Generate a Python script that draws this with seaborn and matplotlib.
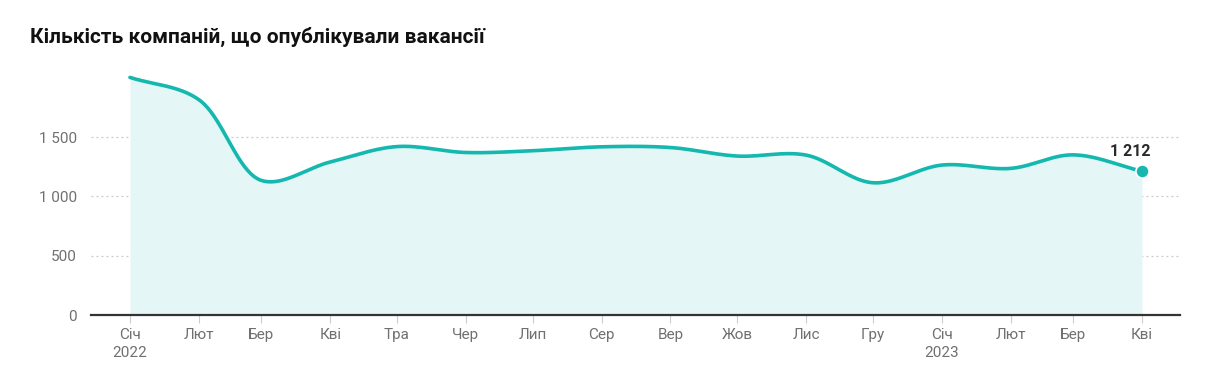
import numpy as np
import pandas as pd
import matplotlib
matplotlib.use("Agg")
import matplotlib.pyplot as plt
import matplotlib.dates as mdates
import seaborn as sns

# ---- data ----
month_labels = ["Січ", "Лют", "Бер", "Кві", "Тра", "Чер", "Лип", "Сер",
                "Вер", "Жов", "Лис", "Гру", "Січ", "Лют", "Бер", "Кві"]
year_labels = {0: "2022", 12: "2023"}
dates = pd.date_range("2022-01-01", periods=16, freq="MS")
values = [2003, 1815, 1135, 1290, 1420, 1370, 1385, 1418,
          1412, 1340, 1348, 1115, 1264, 1236, 1350, 1212]
title = "Кількість компаній, що опублікували вакансії"
last_label = "1 212"

LINE = "#14b8af"
FILL = "#e4f7f6"

sns.set_theme(style="white")
plt.rcParams["font.family"] = ["Roboto", "DejaVu Sans"]

fig = plt.figure(figsize=(12.22, 3.92), dpi=100)
ax = fig.add_axes([0.0745, 0.1964, 0.891, 0.6506])

xnum = mdates.date2num(dates)
yv = np.array(values, dtype=float)

# centripetal Catmull-Rom smoothing in screen-like units (rendering only)
sx, sy = 2.224, 0.11867
P = np.column_stack([xnum * sx, yv * sy])
ext = np.vstack([2 * P[0] - P[1], P, 2 * P[-1] - P[-2]])
curve = []
for i in range(1, len(ext) - 2):
    P0, P1, P2, P3 = ext[i - 1], ext[i], ext[i + 1], ext[i + 2]
    t0 = 0.0
    t1 = t0 + np.linalg.norm(P1 - P0) ** 0.5
    t2 = t1 + np.linalg.norm(P2 - P1) ** 0.5
    t3 = t2 + np.linalg.norm(P3 - P2) ** 0.5
    t = np.linspace(t1, t2, 40)[:, None]
    A1 = (t1 - t) / (t1 - t0) * P0 + (t - t0) / (t1 - t0) * P1
    A2 = (t2 - t) / (t2 - t1) * P1 + (t - t1) / (t2 - t1) * P2
    A3 = (t3 - t) / (t3 - t2) * P2 + (t - t2) / (t3 - t2) * P3
    B1 = (t2 - t) / (t2 - t0) * A1 + (t - t0) / (t2 - t0) * A2
    B2 = (t3 - t) / (t3 - t1) * A2 + (t - t1) / (t3 - t1) * A3
    C = (t2 - t) / (t2 - t1) * B1 + (t - t1) / (t2 - t1) * B2
    curve.append(C if i == 1 else C[1:])
curve = np.vstack(curve)
cx, cy = curve[:, 0] / sx, curve[:, 1] / sy

ax.fill_between(cx, 0, cy, color=FILL, linewidth=0, zorder=1)
sns.lineplot(x=cx, y=cy, sort=False, ax=ax, color=LINE, linewidth=2.6,
             zorder=3, estimator=None)
sns.scatterplot(x=[xnum[-1]], y=[yv[-1]], ax=ax, color=LINE, s=90,
                edgecolor="white", linewidth=1.2, zorder=4)
ax.text(xnum[-1] + 4, yv[-1] + 100, last_label, ha="right", va="bottom",
        fontsize=11.5, fontweight="bold", color="#2a2a2a", zorder=5)

ax.set_xlim(xnum[0] - 17.5, xnum[-1] + 17)
ax.set_ylim(0, 2150)

yt = [0, 500, 1000, 1500]
ax.set_yticks(yt)
ax.set_yticklabels([f"{v:,}".replace(",", " ") for v in yt])
for v in yt[1:]:
    ax.axhline(v, color="#c8c8c8", linewidth=0.9, linestyle=(0, (1.5, 2.5)), zorder=0)

ax.set_xticks(xnum)
ax.set_xticklabels([m + ("\n" + year_labels[i] if i in year_labels else "")
                    for i, m in enumerate(month_labels)])

for s in ["top", "right", "left"]:
    ax.spines[s].set_visible(False)
ax.spines["bottom"].set_color("#333333")
ax.spines["bottom"].set_linewidth(1.6)
ax.spines["bottom"].set_zorder(6)

ax.tick_params(axis="x", which="major", bottom=True, length=6, width=0.8,
               color="#cccccc", pad=3, labelsize=11, labelcolor="#707070")
ax.tick_params(axis="y", left=False, pad=4, labelsize=11, labelcolor="#707070")
for lab in ax.get_xticklabels() + ax.get_yticklabels():
    lab.set_family(["Liberation Sans Narrow", "Roboto", "DejaVu Sans"])
    lab.set_linespacing(1.45)
ax.grid(False)
ax.set_xlabel("")
ax.set_ylabel("")

fig.text(30 / 1222, 1 - 37 / 392, title, ha="left", va="center",
         fontsize=15, fontweight="bold", color="#111111")

fig.savefig("out.png", dpi=100)
